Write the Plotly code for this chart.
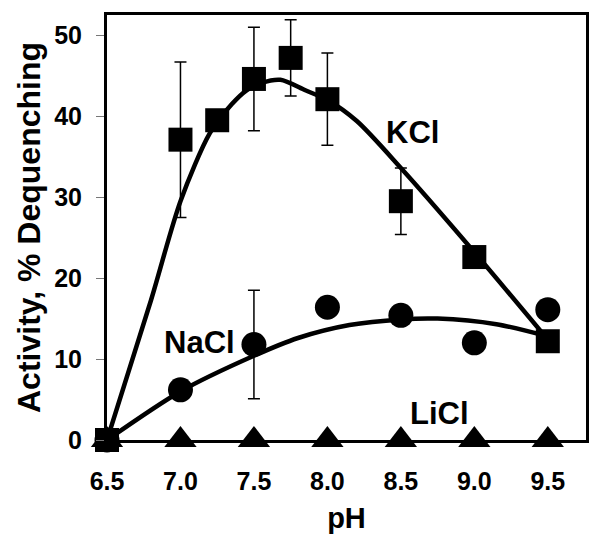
import plotly.graph_objects as go

# ---- data ----
ph = [6.5, 7.0, 7.5, 8.0, 8.5, 9.0, 9.5]

kcl_ph = [6.5, 7.0, 7.25, 7.5, 7.75, 8.0, 8.5, 9.0, 9.5]
kcl_act = [0, 37.1, 39.5, 44.6, 47.2, 42.1, 29.5, 22.6, 12.2]
kcl_err = [0, 9.6, 0, 6.4, 4.7, 5.7, 4.1, 0, 0]

nacl_ph = [6.5, 7.0, 7.5, 8.0, 8.5, 9.0, 9.5]
nacl_act = [0, 6.2, 11.8, 16.4, 15.4, 12.0, 16.1]
nacl_err = [0, 0, 6.7, 0, 0, 0, 0]

licl_act = [0, 0, 0, 0, 0, 0, 0]

# fitted curves
kcl_fit_x = [6.5, 6.8, 7.0, 7.2, 7.35, 7.45, 7.55, 7.68, 7.85, 8.0, 8.2, 8.5, 9.0, 9.5]
kcl_fit_y = [0, 17.3, 29.5, 37.9, 41.5, 43.2, 44.1, 44.5, 43.2, 42.0, 39.4, 33.6, 23.2, 12.4]
nacl_fit_x = [6.5, 7.0, 7.5, 7.8, 8.15, 8.5, 8.75, 9.15, 9.5]
nacl_fit_y = [0, 6.0, 10.4, 12.6, 14.2, 14.9, 15.0, 14.3, 12.8]

x_ticks = [6.5, 7.0, 7.5, 8.0, 8.5, 9.0, 9.5]
x_ticklabels = ["6.5", "7.0", "7.5", "8.0", "8.5", "9.0", "9.5"]
y_ticks = [0, 10, 20, 30, 40, 50]

FONT = "Arial, Liberation Sans, sans-serif"

fig = go.Figure()

fig.add_trace(go.Scatter(x=kcl_fit_x, y=kcl_fit_y, mode="lines", line=dict(color="black", width=4.5, shape="spline", smoothing=0.8),
                         hoverinfo="skip", cliponaxis=False))
fig.add_trace(go.Scatter(x=nacl_fit_x, y=nacl_fit_y, mode="lines", line=dict(color="black", width=4.5, shape="spline", smoothing=0.8),
                         hoverinfo="skip", cliponaxis=False))

fig.add_trace(go.Scatter(x=ph, y=licl_act, mode="markers", name="LiCl",
                         marker=dict(symbol="triangle-up", size=28, color="black"), cliponaxis=False))
fig.add_trace(go.Scatter(x=nacl_ph, y=nacl_act, mode="markers", name="NaCl",
                         marker=dict(symbol="circle", size=25, color="black"),
                         error_y=dict(type="data", array=nacl_err, color="black", thickness=1.5, width=6),
                         cliponaxis=False))
fig.add_trace(go.Scatter(x=kcl_ph, y=kcl_act, mode="markers", name="KCl",
                         marker=dict(symbol="square", size=24, color="black"),
                         error_y=dict(type="data", array=kcl_err, color="black", thickness=1.5, width=6),
                         cliponaxis=False))

ann_font = dict(family=FONT, size=31, color="black", weight="bold")
for txt, xx, yy in [("KCl", 8.58, 38.0), ("NaCl", 7.13, 12.1), ("LiCl", 8.76, 3.3)]:
    fig.add_annotation(x=xx, y=yy, text=txt, showarrow=False, font=ann_font, xanchor="center", yanchor="middle")

fig.update_layout(
    width=601, height=553,
    margin=dict(l=107, r=15, t=15, b=113),
    plot_bgcolor="white", paper_bgcolor="white",
    showlegend=False,
    font=dict(family=FONT, color="black", weight="bold"),
    xaxis=dict(range=[6.5, 9.76], tickvals=x_ticks, ticktext=x_ticklabels,
               showline=True, linecolor="black", linewidth=3, mirror=True,
               showgrid=False, zeroline=False, ticks="", ticklabelstandoff=17,
               tickfont=dict(family=FONT, size=25, weight="bold"),
               title=dict(text="pH", font=dict(family=FONT, size=29, weight="bold"), standoff=14),
               automargin=False),
    yaxis=dict(range=[0, 52.5], tickvals=y_ticks,
               showline=True, linecolor="black", linewidth=3, mirror=True,
               showgrid=False, zeroline=False, ticks="outside", ticklen=8, tickwidth=1, tickcolor="#777",
               ticklabelstandoff=9,
               tickfont=dict(family=FONT, size=25, weight="bold"),
               title=dict(text="Activity, % Dequenching", font=dict(family=FONT, size=32, weight="bold"), standoff=4),
               automargin=False),
)

fig.write_html("out.html", config={"displayModeBar": False},
               post_script="document.body.style.margin='0';")
